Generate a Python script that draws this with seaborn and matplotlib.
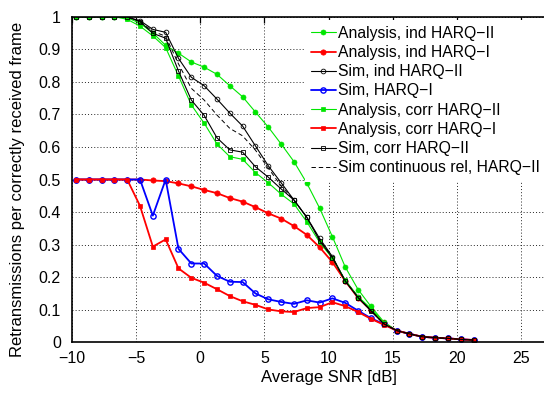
import matplotlib
matplotlib.use("Agg")
import matplotlib.pyplot as plt
import seaborn as sns
import pandas as pd

# ---------------- data ----------------
snr = [-9.7, -8.7, -7.7, -6.7, -5.7, -4.7, -3.7, -2.7, -1.7, -0.7,
       0.3, 1.3, 2.3, 3.3, 4.3, 5.3, 6.3, 7.3, 8.3, 9.3,
       10.3, 11.3, 12.3, 13.3, 14.3, 15.3, 16.3, 17.3, 18.3, 19.3,
       20.3, 21.3]

ana_ind_h2 = [1.0, 1.0, 1.0, 1.0, 0.997, 0.98, 0.95, 0.912, 0.888, 0.861,
              0.845, 0.823, 0.788, 0.754, 0.707, 0.661, 0.609, 0.555, 0.489, 0.412,
              0.324, 0.231, 0.162, 0.110, 0.063, 0.036, 0.026, 0.017, 0.014, 0.012,
              0.009, 0.007]
ana_ind_h1 = [0.5, 0.5, 0.5, 0.5, 0.5, 0.5, 0.497, 0.495, 0.488, 0.479,
              0.468, 0.458, 0.443, 0.432, 0.415, 0.396, 0.380, 0.357, 0.330, 0.292,
              0.246, 0.188, 0.136, 0.099, 0.058, 0.036, 0.026, 0.017, 0.014, 0.012,
              0.009, 0.007]
sim_ind_h2 = [1.0, 1.0, 1.0, 1.0, 0.998, 0.988, 0.961, 0.952, 0.872, 0.814,
              0.788, 0.747, 0.704, 0.664, 0.603, 0.542, 0.490, 0.437, 0.384, 0.319,
              0.263, 0.188, 0.140, 0.099, 0.058, 0.036, 0.026, 0.017, 0.014, 0.012,
              0.009, 0.007]
sim_h1 = [0.5, 0.5, 0.5, 0.5, 0.5, 0.5, 0.389, 0.5, 0.287, 0.242,
          0.242, 0.204, 0.186, 0.185, 0.150, 0.132, 0.124, 0.118, 0.129, 0.122,
          0.135, 0.121, 0.097, 0.074, 0.056, 0.036, 0.026, 0.017, 0.014, 0.012,
          0.009, 0.007]
ana_corr_h2 = [1.0, 1.0, 1.0, 1.0, 0.992, 0.971, 0.941, 0.905, 0.818, 0.729,
               0.673, 0.609, 0.570, 0.562, 0.521, 0.490, 0.455, 0.425, 0.370, 0.307,
               0.258, 0.191, 0.140, 0.104, 0.060, 0.036, 0.026, 0.017, 0.014, 0.012,
               0.009, 0.007]
ana_corr_h1 = [0.5, 0.5, 0.5, 0.5, 0.5, 0.419, 0.294, 0.316, 0.227, 0.198,
               0.183, 0.163, 0.142, 0.126, 0.115, 0.101, 0.095, 0.093, 0.105, 0.108,
               0.123, 0.111, 0.093, 0.072, 0.054, 0.036, 0.026, 0.017, 0.014, 0.012,
               0.009, 0.007]
sim_corr_h2 = [1.0, 1.0, 1.0, 1.0, 1.0, 0.985, 0.949, 0.934, 0.833, 0.744,
               0.697, 0.628, 0.591, 0.584, 0.539, 0.507, 0.471, 0.437, 0.384, 0.312,
               0.260, 0.188, 0.137, 0.096, 0.057, 0.036, 0.026, 0.017, 0.014, 0.012,
               0.009, 0.007]
sim_cont_h2 = [1.0, 1.0, 1.0, 1.0, 1.0, 0.985, 0.955, 0.940, 0.855, 0.780,
               0.744, 0.698, 0.657, 0.634, 0.590, 0.535, 0.480, 0.437, 0.384, 0.315,
               0.260, 0.188, 0.138, 0.097, 0.057, 0.036, 0.026, 0.017, 0.014, 0.012,
               0.009, 0.007]

labels = ["Analysis, ind HARQ\u2212II", "Analysis, ind HARQ\u2212I",
          "Sim, ind HARQ\u2212II", "Sim, HARQ\u2212I",
          "Analysis, corr HARQ\u2212II", "Analysis, corr HARQ\u2212I",
          "Sim, corr HARQ\u2212II", "Sim continuous rel, HARQ\u2212II"]
xticks = [-10, -5, 0, 5, 10, 15, 20, 25]
yticks = [0, 0.1, 0.2, 0.3, 0.4, 0.5, 0.6, 0.7, 0.8, 0.9, 1]

# ---------------- style ----------------
sns.set_theme(style="white")
plt.rcParams["font.family"] = ["Liberation Sans", "DejaVu Sans"]
plt.rcParams["axes.unicode_minus"] = True

GREEN = "#00E600"
RED = "#FF0000"
BLUE = "#0000FF"
BLACK = "#000000"

fig = plt.figure(figsize=(5.44, 3.95), dpi=100)
ax = fig.add_axes([72 / 544, (395 - 342.3) / 395, 513.2 / 544, 325.6 / 395])

series = [
    (ana_ind_h2, dict(color=GREEN, lw=0.8, marker="o", ms=3.6, mfc=GREEN, mec=GREEN, mew=0.5)),
    (ana_ind_h1, dict(color=RED, lw=1.3, marker="o", ms=3.8, mfc=RED, mec=RED, mew=0.5)),
    (sim_ind_h2, dict(color=BLACK, lw=0.8, marker="o", ms=3.4, mfc="none", mec=BLACK, mew=0.6)),
    (sim_h1, dict(color=BLUE, lw=1.3, marker="o", ms=3.8, mfc="none", mec=BLUE, mew=1.0)),
    (ana_corr_h2, dict(color=GREEN, lw=0.8, marker="s", ms=3.2, mfc=GREEN, mec=GREEN, mew=0.5)),
    (ana_corr_h1, dict(color=RED, lw=1.3, marker="s", ms=3.4, mfc=RED, mec=RED, mew=0.5)),
    (sim_corr_h2, dict(color=BLACK, lw=0.8, marker="s", ms=2.8, mfc="none", mec=BLACK, mew=0.6)),
    (sim_cont_h2, dict(color=BLACK, lw=0.7, linestyle=(0, (4.5, 3)))),
]

for (vals, style), lab in zip(series, labels):
    df = pd.DataFrame({"snr": snr, "val": vals})
    sns.lineplot(data=df, x="snr", y="val", ax=ax, label=lab, sort=False,
                 estimator=None, **style)

ax.set_xlim(-10, 30)
ax.set_ylim(0, 1)
ax.set_xticks(xticks)
ax.set_yticks(yticks)
ax.set_yticklabels([f"{v:g}" for v in yticks])
ax.set_xticklabels([f"{v:g}".replace("-", "\u2212") for v in xticks])

ax.grid(True, color="0.15", linestyle=(0, (1, 2.2)), linewidth=0.7)
ax.set_axisbelow(True)
for sp in ax.spines.values():
    sp.set_color("black")
    sp.set_linewidth(1.2)
ax.tick_params(direction="in", length=4, width=0.9, top=True, right=True,
               labelsize=11.5, colors="black", pad=6)
ax.tick_params(axis="y", pad=8)

ax.set_xlabel("Average SNR [dB]", fontsize=12, color="black", labelpad=3)
ax.set_ylabel("Retransmissions per correctly received frame", fontsize=12,
              color="black")
ax.yaxis.set_label_coords(-0.092, 0.47)

handles, labs = ax.get_legend_handles_labels()
leg = ax.legend(handles, labs, loc="upper left",
                bbox_to_anchor=(305 / 544, 1 - 19.5 / 395),
                bbox_transform=fig.transFigure,
                frameon=True, fancybox=False, framealpha=1.0,
                facecolor="white", edgecolor="none",
                fontsize=11.3, labelspacing=0.27, handlelength=1.55,
                handletextpad=0.15, borderpad=0.4, borderaxespad=0)
for t in leg.get_texts():
    t.set_color("black")

fig.savefig("out.png", dpi=100)
